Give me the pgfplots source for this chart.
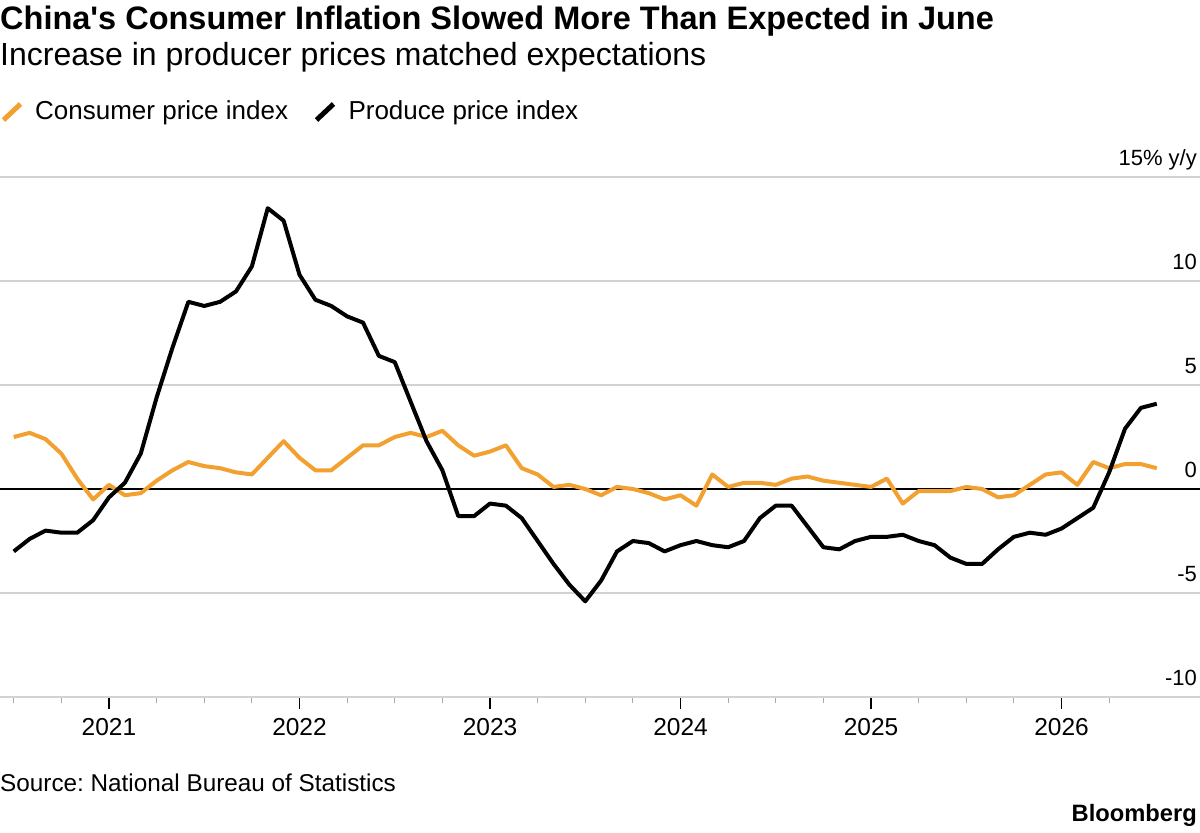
\documentclass[border=0pt]{standalone}
\usepackage{fontspec}
\setmainfont{Liberation Sans}[Ligatures=TeXOff]
\usepackage{pgfplots}
\pgfplotsset{compat=1.18}
\usepackage{pgfplotstable}
\definecolor{cpiorange}{RGB}{242,160,48}
\definecolor{gridgray}{RGB}{210,210,210}
\definecolor{tickgray}{RGB}{170,170,170}

\pgfplotstableread{
idx cpi ppi
-6 2.5 -3.0
-5 2.7 -2.4
-4 2.4 -2.0
-3 1.7 -2.1
-2 0.5 -2.1
-1 -0.5 -1.5
0 0.2 -0.4
1 -0.3 0.3
2 -0.2 1.7
3 0.4 4.4
4 0.9 6.8
5 1.3 9.0
6 1.1 8.8
7 1.0 9.0
8 0.8 9.5
9 0.7 10.7
10 1.5 13.5
11 2.3 12.9
12 1.5 10.3
13 0.9 9.1
14 0.9 8.8
15 1.5 8.3
16 2.1 8.0
17 2.1 6.4
18 2.5 6.1
19 2.7 4.2
20 2.5 2.3
21 2.8 0.9
22 2.1 -1.3
23 1.6 -1.3
24 1.8 -0.7
25 2.1 -0.8
26 1.0 -1.4
27 0.7 -2.5
28 0.1 -3.6
29 0.2 -4.6
30 0.0 -5.4
31 -0.3 -4.4
32 0.1 -3.0
33 0.0 -2.5
34 -0.2 -2.6
35 -0.5 -3.0
36 -0.3 -2.7
37 -0.8 -2.5
38 0.7 -2.7
39 0.1 -2.8
40 0.3 -2.5
41 0.3 -1.4
42 0.2 -0.8
43 0.5 -0.8
44 0.6 -1.8
45 0.4 -2.8
46 0.3 -2.9
47 0.2 -2.5
48 0.1 -2.3
49 0.5 -2.3
50 -0.7 -2.2
51 -0.1 -2.5
52 -0.1 -2.7
53 -0.1 -3.3
54 0.1 -3.6
55 0.0 -3.6
56 -0.4 -2.9
57 -0.3 -2.3
58 0.2 -2.1
59 0.7 -2.2
60 0.8 -1.9
61 0.2 -1.4
62 1.3 -0.9
63 1.0 0.8
64 1.2 2.9
65 1.2 3.9
66 1.0 4.1
}\datatable

\begin{document}
\frenchspacing
\begin{tikzpicture}
\useasboundingbox (0pt,0pt) rectangle (1200pt,-833pt);
% titles
\node[anchor=base west, inner sep=0pt, font=\fontsize{32.5}{38}\selectfont\bfseries] at (0pt,-29pt) {China's Consumer Inflation Slowed More Than Expected in June};
\node[anchor=base west, inner sep=0pt, font=\fontsize{32}{38}\selectfont] at (0pt,-65pt) {Increase in producer prices matched expectations};
% legend
\draw[cpiorange, line width=5pt] (3.5pt,-120pt) -- (20.5pt,-104pt);
\node[anchor=base west, inner sep=0pt, font=\fontsize{26}{30}\selectfont] at (35pt,-119.3pt) {Consumer price index};
\draw[black, line width=5pt] (316.5pt,-120pt) -- (333.5pt,-104pt);
\node[anchor=base west, inner sep=0pt, font=\fontsize{26}{30}\selectfont] at (348.3pt,-119.3pt) {Produce price index};
% footer
\node[anchor=base west, inner sep=0pt, font=\fontsize{24.3}{29}\selectfont] at (0pt,-791pt) {Source: National Bureau of Statistics};
\node[anchor=base east, inner sep=0pt, font=\fontsize{23.7}{28}\selectfont\bfseries] at (1197pt,-821pt) {Bloomberg};

\begin{axis}[
  at={(0pt,-697pt)}, anchor=south west,
  scale only axis, width=1200pt, height=520pt,
  xmin=-6.866, xmax=68.724, ymin=-10, ymax=15,
  axis x line*=bottom, axis y line*=right,
  x axis line style={gridgray, line width=1.5pt},
  y axis line style={draw=none},
  clip=false,
  ytick={-10,-5,0,5,10,15},
  yticklabels={-10,-5,0,5,10,{15\% y/y}},
  ymajorgrids, major grid style={gridgray, line width=1.5pt},
  xtick={0,12,24,36,48,60},
  xticklabels={2021,2022,2023,2024,2025,2026},
  minor xtick={-6,-3,3,6,9,15,18,21,27,30,33,39,42,45,51,54,57,63},
  tick align=inside,
  major tick length=-12pt, minor tick length=-6pt,
  major tick style={black, line width=1.5pt},
  minor tick style={tickgray, line width=1.2pt},
  ytick style={draw=none},
  xticklabel style={font=\fontsize{24.5}{28}\selectfont, anchor=base, inner sep=0pt, yshift=-38pt},
  yticklabel style={font=\fontsize{22}{26}\selectfont, anchor=base east, inner sep=0pt, xshift=-3pt, yshift=11.7pt},
]
\addplot[black, line width=1.5pt] coordinates {(-6.866,0) (68.724,0)};
\addplot[cpiorange, line width=4pt, line join=round] table[x=idx, y=cpi] {\datatable};
\addplot[black, line width=4pt, line join=round] table[x=idx, y=ppi] {\datatable};
\end{axis}
\end{tikzpicture}
\end{document}
